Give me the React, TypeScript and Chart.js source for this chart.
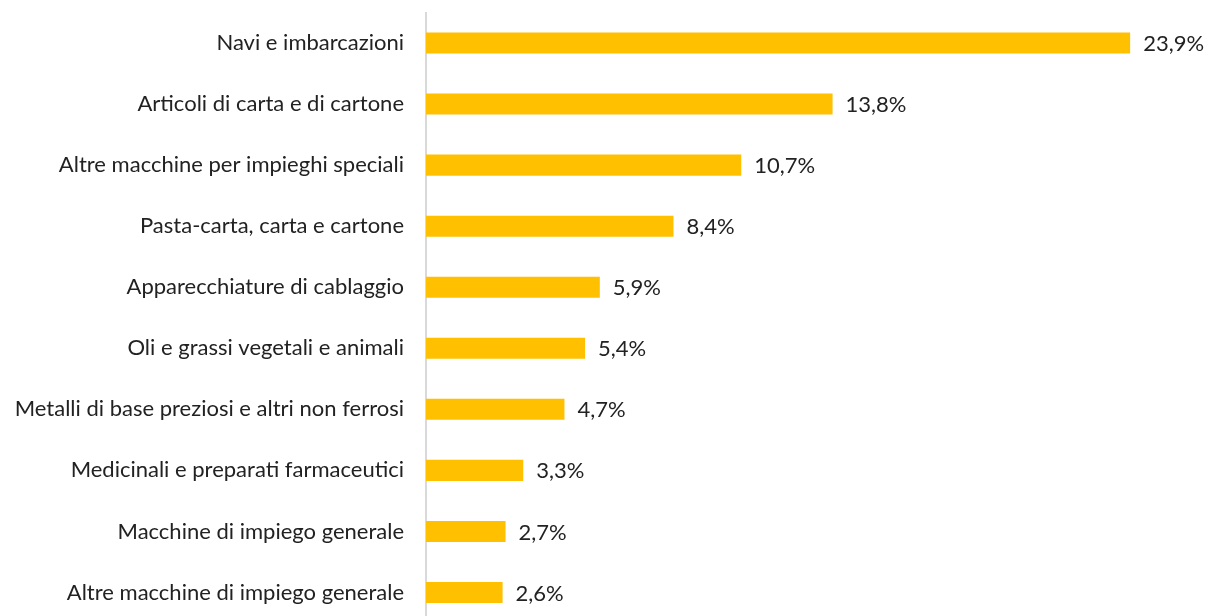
import React, { useEffect, useRef } from "react";
import { Chart, registerables } from "chart.js";

Chart.register(...registerables);

const categories = [
  "Navi e imbarcazioni",
  "Articoli di carta e di cartone",
  "Altre macchine per impieghi speciali",
  "Pasta-carta, carta e cartone",
  "Apparecchiature di cablaggio",
  "Oli e grassi vegetali e animali",
  "Metalli di base preziosi e altri non ferrosi",
  "Medicinali e preparati farmaceutici",
  "Macchine di impiego generale",
  "Altre macchine di impiego generale",
];

const values = [23.9, 13.8, 10.7, 8.4, 5.9, 5.4, 4.7, 3.3, 2.7, 2.6];

const FONT = "Lato, 'Liberation Sans', sans-serif";
const FONT_SIZE = 22;

export default function App() {
  const ref = useRef<HTMLCanvasElement | null>(null);

  useEffect(() => {
    if (!ref.current) return;
    const labelPlugin = {
      id: "valueLabels",
      afterDatasetsDraw(chart: any) {
        const ctx = chart.ctx;
        const meta = chart.getDatasetMeta(0);
        ctx.save();
        ctx.font = `${FONT_SIZE}px ${FONT}`;
        ctx.fillStyle = "#222222";
        ctx.textAlign = "left";
        ctx.textBaseline = "middle";
        meta.data.forEach((bar: any, i: number) => {
          const txt = values[i].toFixed(1).replace(".", ",") + "%";
          ctx.fillText(txt, bar.x + 13, bar.y + 1);
        });
        ctx.restore();
      },
    };
    const chart = new Chart(ref.current, {
      type: "bar",
      data: {
        labels: categories,
        datasets: [
          {
            data: values,
            backgroundColor: "#FFC000",
            borderWidth: 0,
            barPercentage: 0.345,
            categoryPercentage: 1,
          },
        ],
      },
      options: {
        indexAxis: "y",
        responsive: false,
        animation: false,
        devicePixelRatio: 1,
        layout: { padding: { top: 12.5, right: 15, bottom: 0, left: 0 } },
        plugins: { legend: { display: false }, tooltip: { enabled: false } },
        scales: {
          x: {
            display: false,
            min: 0,
            max: 26,
          },
          y: {
            afterFit(scale: any) {
              scale.width = 426;
              scale.paddingTop = 0;
              scale.paddingBottom = 0;
            },
            grid: { display: false, drawTicks: false },
            border: { display: true, color: "#d9d9d9", width: 2 },
            ticks: {
              padding: 22,
              color: "#222222",
              font: { family: FONT, size: FONT_SIZE },
            },
          },
        },
      },
      plugins: [labelPlugin],
    });
    return () => chart.destroy();
  }, []);

  return (
    <div
      style={{
        position: "fixed",
        left: 0,
        top: 0,
        width: 1207,
        height: 616,
        overflow: "hidden",
        background: "#ffffff",
      }}
    >
      <canvas ref={ref} width={1207} height={623} style={{ display: "block" }} />
    </div>
  );
}
